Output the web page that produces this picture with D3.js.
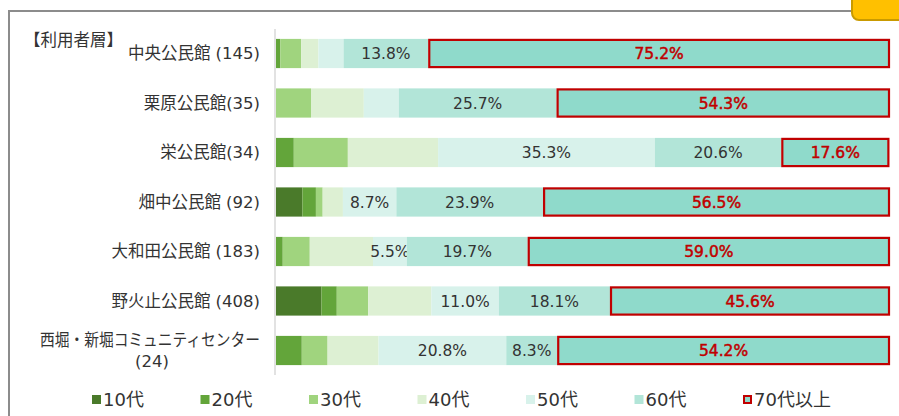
<!DOCTYPE html>
<html>
<head>
<meta charset="utf-8">
<script src="https://cdn.jsdelivr.net/npm/d3@7"></script>
<style>
  body { margin: 0; background: #fff; }
  svg { display: block; font-family: "DejaVu Sans", "Noto Sans CJK JP", sans-serif; }
</style>
</head>
<body>
<script>
// facilities (top to bottom), "|" marks where the label wraps
var categories = ["中央公民館 (145)", "栗原公民館(35)", "栄公民館(34)", "畑中公民館 (92)",
                  "大和田公民館 (183)", "野火止公民館 (408)", "西堀・新堀コミュニティセンター|(24)"];
var seriesNames = ["10代", "20代", "30代", "40代", "50代", "60代", "70代以上"];

// percentages per age group, one entry per facility
var v10 = [0,   0,    0,    4.3,  0,    7.4,  0];
var v20 = [0.7, 0,    2.9,  2.2,  1.1,  2.5,  4.2];
var v30 = [3.4, 5.7,  8.8,  1.1,  4.4,  5.1,  4.2];
var v40 = [2.8, 8.6,  14.7, 3.3,  10.3, 10.3, 8.3];
var v50 = [4.1, 5.7,  35.3, 8.7,  5.5,  11.0, 20.8];
var v60 = [13.8, 25.7, 20.6, 23.9, 19.7, 18.1, 8.3];
var v70 = [75.2, 54.3, 17.6, 56.5, 59.0, 45.6, 54.2];
// which value labels are printed (per series, per facility)
var show50 = [false, false, true, true, true, true, true];
var show60 = [true, true, true, true, true, true, true];
var show70 = [true, true, true, true, true, true, true];

var colors = ["#4a7a2a", "#63a53a", "#a0d47e", "#ddf0d3", "#d8f2eb", "#b2e5d8", "#8fdacb"];

var values = [v10, v20, v30, v40, v50, v60, v70];
var shows = [null, null, null, null, show50, show60, show70];

var W = 899, H = 416;
var margin = { top: 29, right: 9, bottom: 41, left: 276 };

var svg = d3.select("body").append("svg")
    .attr("width", W).attr("height", H);

// frame + yellow tab at the top right
svg.append("path")
   .attr("d", "M9,416 V11 H851")
   .attr("fill", "none").attr("stroke", "#8c8c8c").attr("stroke-width", 2);
svg.append("rect")
   .attr("x", 852).attr("y", -20).attr("width", 70).attr("height", 40).attr("rx", 7)
   .attr("fill", "#ffc000").attr("stroke", "#c99a00").attr("stroke-width", 2);

var x = d3.scaleLinear().domain([0, 100]).range([margin.left, W - margin.right]);
var y = d3.scaleBand().domain(d3.range(categories.length))
          .range([margin.top, H - margin.bottom]).paddingInner(0.41).paddingOuter(0.2);

// build stacked rows
var rows = categories.map(function(c, i) {
    var o = { idx: i };
    seriesNames.forEach(function(s, k) { o[s] = values[k][i]; });
    return o;
});
var stack = d3.stack().keys(seriesNames)(rows);

stack.forEach(function(layer, k) {
    var g = svg.append("g");
    g.selectAll("rect").data(layer).enter().append("rect")
     .attr("x", function(d) { return x(d[0]); })
     .attr("y", function(d) { return y(d.data.idx); })
     .attr("width", function(d) { return x(d[1]) - x(d[0]); })
     .attr("height", y.bandwidth())
     .attr("fill", colors[k]);
    if (k === 6) {
        g.selectAll("rect")
         .attr("x", function(d) { return x(d[0]) + 1; })
         .attr("y", function(d) { return y(d.data.idx) + 1; })
         .attr("width", function(d) { return x(d[1]) - x(d[0]) - 2; })
         .attr("height", y.bandwidth() - 2)
         .attr("stroke", "#c00000").attr("stroke-width", 2.2);
    }
    if (shows[k]) {
        g.selectAll("text").data(layer.filter(function(d, i) { return shows[k][i]; }))
         .enter().append("text")
         .attr("x", function(d) { return (x(d[0]) + x(d[1])) / 2; })
         .attr("y", function(d) { return y(d.data.idx) + y.bandwidth() / 2; })
         .attr("dy", "0.36em")
         .attr("text-anchor", "middle")
         .attr("font-size", 15.5)
         .attr("fill", k === 6 ? "#c00000" : "#333")
         .attr("stroke", k === 6 ? "#c00000" : null)
         .attr("stroke-width", 0.5)
         .text(function(d) { return (d[1] - d[0]).toFixed(1) + "%"; });
    }
});

// vertical axis line
svg.append("line")
   .attr("x1", margin.left - 1).attr("x2", margin.left - 1)
   .attr("y1", margin.top).attr("y2", H - margin.bottom)
   .attr("stroke", "#d9d9d9").attr("stroke-width", 1.5);

// category labels
categories.forEach(function(c, i) {
    var parts = c.split("|");
    var cy = y(i) + y.bandwidth() / 2;
    if (parts.length === 1) {
        svg.append("text")
           .attr("x", 260).attr("y", cy).attr("dy", "0.36em")
           .attr("text-anchor", "end")
           .attr("font-size", 16.5).attr("fill", "#333").text(c);
    } else {
        svg.append("text")
           .attr("x", 260).attr("y", cy - 10).attr("dy", "0.36em")
           .attr("text-anchor", "end")
           .attr("textLength", 220).attr("lengthAdjust", "spacingAndGlyphs")
           .attr("font-size", 16.5).attr("fill", "#333").text(parts[0]);
        svg.append("text")
           .attr("x", 152).attr("y", cy + 11).attr("dy", "0.36em")
           .attr("text-anchor", "middle")
           .attr("font-size", 16.5).attr("fill", "#333").text(parts[1]);
    }
});

svg.append("text")
   .attr("x", 24).attr("y", 46)
   .attr("font-size", 16.5).attr("fill", "#333")
   .text("【利用者層】");

// legend
var leg = svg.append("g").selectAll("g").data(seriesNames).enter().append("g")
   .attr("transform", function(d, i) { return "translate(" + (92 + i * 108.5) + ",400)"; });
leg.append("rect")
   .attr("x", function(d, i) { return i === 6 ? 1 : 0; })
   .attr("y", function(d, i) { return i === 6 ? -4 : -5; })
   .attr("width", function(d, i) { return i === 6 ? 7 : 9; })
   .attr("height", function(d, i) { return i === 6 ? 7 : 9; })
   .attr("fill", function(d, i) { return colors[i]; })
   .attr("stroke", function(d, i) { return i === 6 ? "#c00000" : null; })
   .attr("stroke-width", 2);
leg.append("text")
   .attr("x", 11).attr("dy", "0.36em")
   .attr("font-size", 18).attr("fill", "#333")
   .text(function(d) { return d; });
</script>
</body>
</html>
